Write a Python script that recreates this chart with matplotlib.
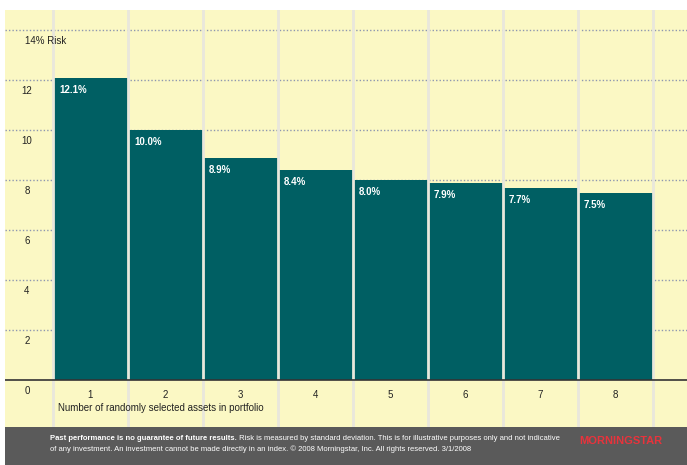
import matplotlib
matplotlib.use("Agg")
import matplotlib.pyplot as plt

categories = [1, 2, 3, 4, 5, 6, 7, 8]
risk = [12.1, 10.0, 8.9, 8.4, 8.0, 7.9, 7.7, 7.5]
bar_labels = ["12.1%", "10.0%", "8.9%", "8.4%", "8.0%", "7.9%", "7.7%", "7.5%"]
y_ticks = [0, 2, 4, 6, 8, 10, 12, 14]
y_tick_labels = ["0", "2", "4", "6", "8", "10", "12", "14% Risk"]
x_title = "Number of randomly selected assets in portfolio"
footer_bold = "Past performance is no guarantee of future results."
footer_line1 = " Risk is measured by standard deviation. This is for illustrative purposes only and not indicative"
footer_line2 = "of any investment. An investment cannot be made directly in an index. \u00a9 2008 Morningstar, Inc. All rights reserved. 3/1/2008"

plt.rcParams['font.family'] = ['Liberation Sans', 'DejaVu Sans']

W, H = 687, 465
fig = plt.figure(figsize=(W / 100, H / 100), dpi=100, facecolor="white")

YELLOW = "#FBF8C4"
TEAL = "#005F63"
SEP = "#E9E7DC"
GRID = "#8E97B0"

left_px, right_px, top_px, bot_px = 5, 687, 10, 427
ax = fig.add_axes([left_px / W, 1 - bot_px / H, (right_px - left_px) / W, (bot_px - top_px) / H])
ax.set_facecolor(YELLOW)
ax.set_xlim(1 + (left_px - 90.5) / 75, 1 + (right_px - 90.5) / 75)
ax.set_ylim((380 - bot_px) / 25, (380 - top_px) / 25)
for s in ax.spines.values():
    s.set_visible(False)
ax.set_xticks([])
ax.set_yticks([])

for yv in y_ticks[1:]:
    ax.axhline(yv, color=GRID, lw=1.0, ls=(0, (1, 1.5)), zorder=1)

ax.bar(categories, risk, width=1.0, color=TEAL, zorder=2, linewidth=0)

for xs in [0.5 + i for i in range(9)]:
    ax.axvline(xs, color=SEP, lw=2.0, zorder=3)

ax.axhline(0, color="#333333", lw=1.2, zorder=4)

for c, v, lab in zip(categories, risk, bar_labels):
    ax.annotate(lab, xy=(c - 0.5, v), xytext=(6, -7), textcoords="offset pixels",
                ha="left", va="top", color="white", fontsize=7, fontweight="bold", zorder=5)

for yv, lab in zip(y_ticks, y_tick_labels):
    if "Risk" in lab:
        ax.annotate(lab, xy=(-0.14, yv), xytext=(20, -6), textcoords="offset pixels",
                    ha="left", va="top", fontsize=7, color="#222222")
    else:
        ax.annotate(lab, xy=(-0.14, yv), xytext=(22, -6), textcoords="offset pixels",
                    ha="center", va="top", fontsize=7, color="#222222")

for c in categories:
    ax.annotate(str(c), xy=(c, 0), xytext=(0, -10), textcoords="offset pixels",
                ha="center", va="top", fontsize=7, color="#222222")
ax.annotate(x_title, xy=(0.5, 0), xytext=(5, -23), textcoords="offset pixels",
            ha="left", va="top", fontsize=7, color="#222222")

fax = fig.add_axes([left_px / W, 0, (right_px - left_px) / W, (H - bot_px) / H])
fax.set_facecolor("#5A5A5A")
fax.set_xlim(left_px, right_px)
fax.set_ylim(H, bot_px)
fax.set_xticks([]); fax.set_yticks([])
for s in fax.spines.values():
    s.set_visible(False)
t1 = fax.text(50, 438, footer_bold, fontsize=5.5, fontweight="bold", color="white",
              ha="left", va="center")
fax.annotate(footer_line1, xy=(1, 0.5), xycoords=t1, ha="left", va="center",
             fontsize=5.5, color="white")
fax.text(50, 449, footer_line2, fontsize=5.5, color="white", ha="left", va="center")
fax.text(621, 441, "MORNINGSTAR", fontsize=8, fontweight="bold", color="#E8333C",
         ha="center", va="center", fontstretch="condensed")

fig.savefig("out.png", dpi=100, facecolor="white")
